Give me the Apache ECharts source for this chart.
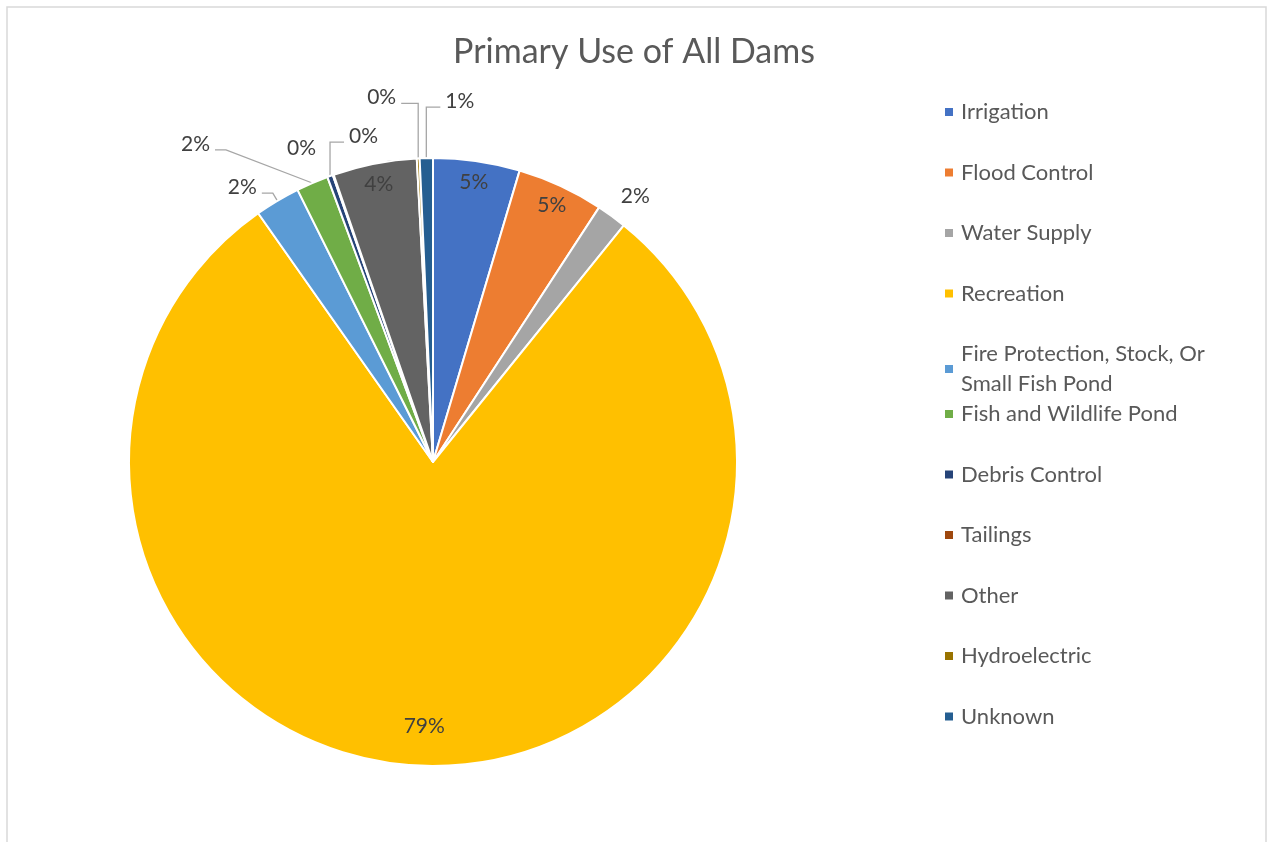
<!DOCTYPE html>
<html>
<head>
<meta charset="utf-8">
<script src="https://cdn.jsdelivr.net/npm/echarts@6/dist/echarts.min.js"></script>
<style>
html,body{margin:0;padding:0;background:#fff;}
#chart{width:1268px;height:842px;}
</style>
</head>
<body>
<div id="chart"></div>
<script>
const titleText = 'Primary Use of All Dams';
const categories = ['Irrigation', 'Flood Control', 'Water Supply', 'Recreation',
  'Fire Protection, Stock, Or Small Fish Pond', 'Fish and Wildlife Pond',
  'Debris Control', 'Tailings', 'Other', 'Hydroelectric', 'Unknown'];
const values = [4.6, 4.6, 1.6, 79.45, 2.4, 1.7, 0.3, 0.05, 4.45, 0.15, 0.7];
const colors = ['#4472C4', '#ED7D31', '#A5A5A5', '#FFC000', '#5B9BD5', '#70AD47',
  '#264478', '#9E480E', '#636363', '#997300', '#255E91'];
const legendGroup1 = categories.slice(0, 5);
const legendGroup2 = categories.slice(5);

// label-line styling for the small outside labels (style only, keyed by name)
const outsideLabelStyle = {
  'Water Supply': {length: 24, length2: -10, line: false},
  'Fire Protection, Stock, Or Small Fish Pond': {length: 9, length2: 11, line: true, raise: true},
  'Fish and Wildlife Pond': {length: 36, length2: 83, line: true, diagonalTail: 11, raise: true},
  'Debris Control': {length: 36, length2: 14, line: true, vertical: true, flip: true},
  'Tailings': {length: 28, length2: 3, line: false},
  'Hydroelectric': {length: 55, length2: 17, line: true, vertical: true},
  'Unknown': {length: 51, length2: 14, line: true, vertical: true, flip: true}
};
const LABEL_RAISE = 6;

const FONT = 'Lato';
const CX = 433, CY = 462, R = 304;
const INSIDE_MIN = 3;

const chart = echarts.init(document.getElementById('chart'), null, {renderer: 'canvas'});

const pct = p => Math.round(p.percent) + '%';

const baseData = categories.map((n, i) => {
  const st = outsideLabelStyle[n] || {};
  const item = {name: n, value: values[i], label: {show: values[i] < INSIDE_MIN}};
  if (values[i] < INSIDE_MIN) {
    item.labelLine = {show: !!st.line, length: st.length, length2: st.length2};
  }
  return item;
});
const overlayData = (pred) => categories.map((n, i) => ({
  name: n, value: values[i],
  label: {show: pred(values[i])}
}));

const legendCommon = {
  orient: 'vertical', left: 938, icon: 'rect', itemWidth: 10, itemHeight: 10,
  itemGap: 30.5, selectedMode: false,
  textStyle: {fontFamily: FONT, fontSize: 22, color: '#595959', lineHeight: 30, padding: [0, 0, 0, 2]},
  formatter: n => n === 'Fire Protection, Stock, Or Small Fish Pond' ? 'Fire Protection, Stock, Or\nSmall Fish Pond' : n
};

function layoutSmallLabels(p) {
  if (p.seriesIndex !== 0) return;
  const st = outsideLabelStyle[categories[p.dataIndex]];
  if (!st || !p.labelLinePoints) return;
  const pts = p.labelLinePoints;
  const p0 = pts[0], p2 = pts[2];
  if (!st.vertical) {
    if (!st.raise) return;
    const dir = p2[0] < p0[0] ? -1 : 1;
    const mid = st.diagonalTail ? [p2[0] - dir * st.diagonalTail, p2[1]] : [pts[1][0], pts[1][1]];
    return {
      y: p2[1] - LABEL_RAISE, verticalAlign: 'middle',
      labelLinePoints: [[p0[0], p0[1]], mid, [p2[0], p2[1]]]
    };
  }
  const y = pts[1][1];
  const dir = st.flip ? 1 : -1;
  const xEnd = p0[0] + dir * st.length2;
  return {
    x: xEnd + dir * 5, y: y - LABEL_RAISE,
    align: st.flip ? 'left' : 'right', verticalAlign: 'middle',
    labelLinePoints: [[p0[0], p0[1]], [p0[0], y], [xEnd, y]]
  };
}

const option = {
  animation: false,
  color: colors,
  title: {
    text: titleText, left: 'center', top: 30,
    textStyle: {fontFamily: FONT, fontSize: 34, fontWeight: 'normal', color: '#595959'}
  },
  legend: [
    Object.assign({}, legendCommon, {top: 92, data: legendGroup1}),
    Object.assign({}, legendCommon, {top: 394, data: legendGroup2})
  ],
  graphic: [{
    type: 'rect', shape: {x: 7, y: 7, width: 1259, height: 900},
    style: {fill: 'none', stroke: '#d9d9d9', lineWidth: 1.5}, silent: true
  }],
  series: [
    {
      type: 'pie', center: [CX, CY], radius: [0, R], startAngle: 90, clockwise: true,
      percentPrecision: 2, avoidLabelOverlap: false,
      itemStyle: {borderColor: '#fff', borderWidth: 2},
      label: {position: 'outside', formatter: pct, fontFamily: FONT, fontSize: 21, color: '#404040', distanceToLabelLine: 5},
      labelLine: {show: true, length: 12, length2: 12, lineStyle: {color: '#a6a6a6', width: 1.3}},
      labelLayout: layoutSmallLabels,
      emphasis: {disabled: true},
      data: baseData
    },
    {
      type: 'pie', center: [CX, CY], radius: [R * 0.84, R], startAngle: 90, clockwise: true,
      percentPrecision: 2, silent: true,
      itemStyle: {color: 'rgba(0,0,0,0)', borderWidth: 0},
      label: {position: 'inside', formatter: pct, fontFamily: FONT, fontSize: 21, color: '#404040'},
      labelLine: {show: false},
      emphasis: {disabled: true},
      data: overlayData(v => v >= INSIDE_MIN && v < 50)
    },
    {
      type: 'pie', center: [CX, CY], radius: [R * 0.72, R], startAngle: 90, clockwise: true,
      percentPrecision: 2, silent: true,
      itemStyle: {color: 'rgba(0,0,0,0)', borderWidth: 0},
      label: {position: 'inside', formatter: pct, fontFamily: FONT, fontSize: 21, color: '#404040'},
      labelLine: {show: false},
      emphasis: {disabled: true},
      data: overlayData(v => v >= 50)
    }
  ]
};
chart.setOption(option);
</script>
</body>
</html>
